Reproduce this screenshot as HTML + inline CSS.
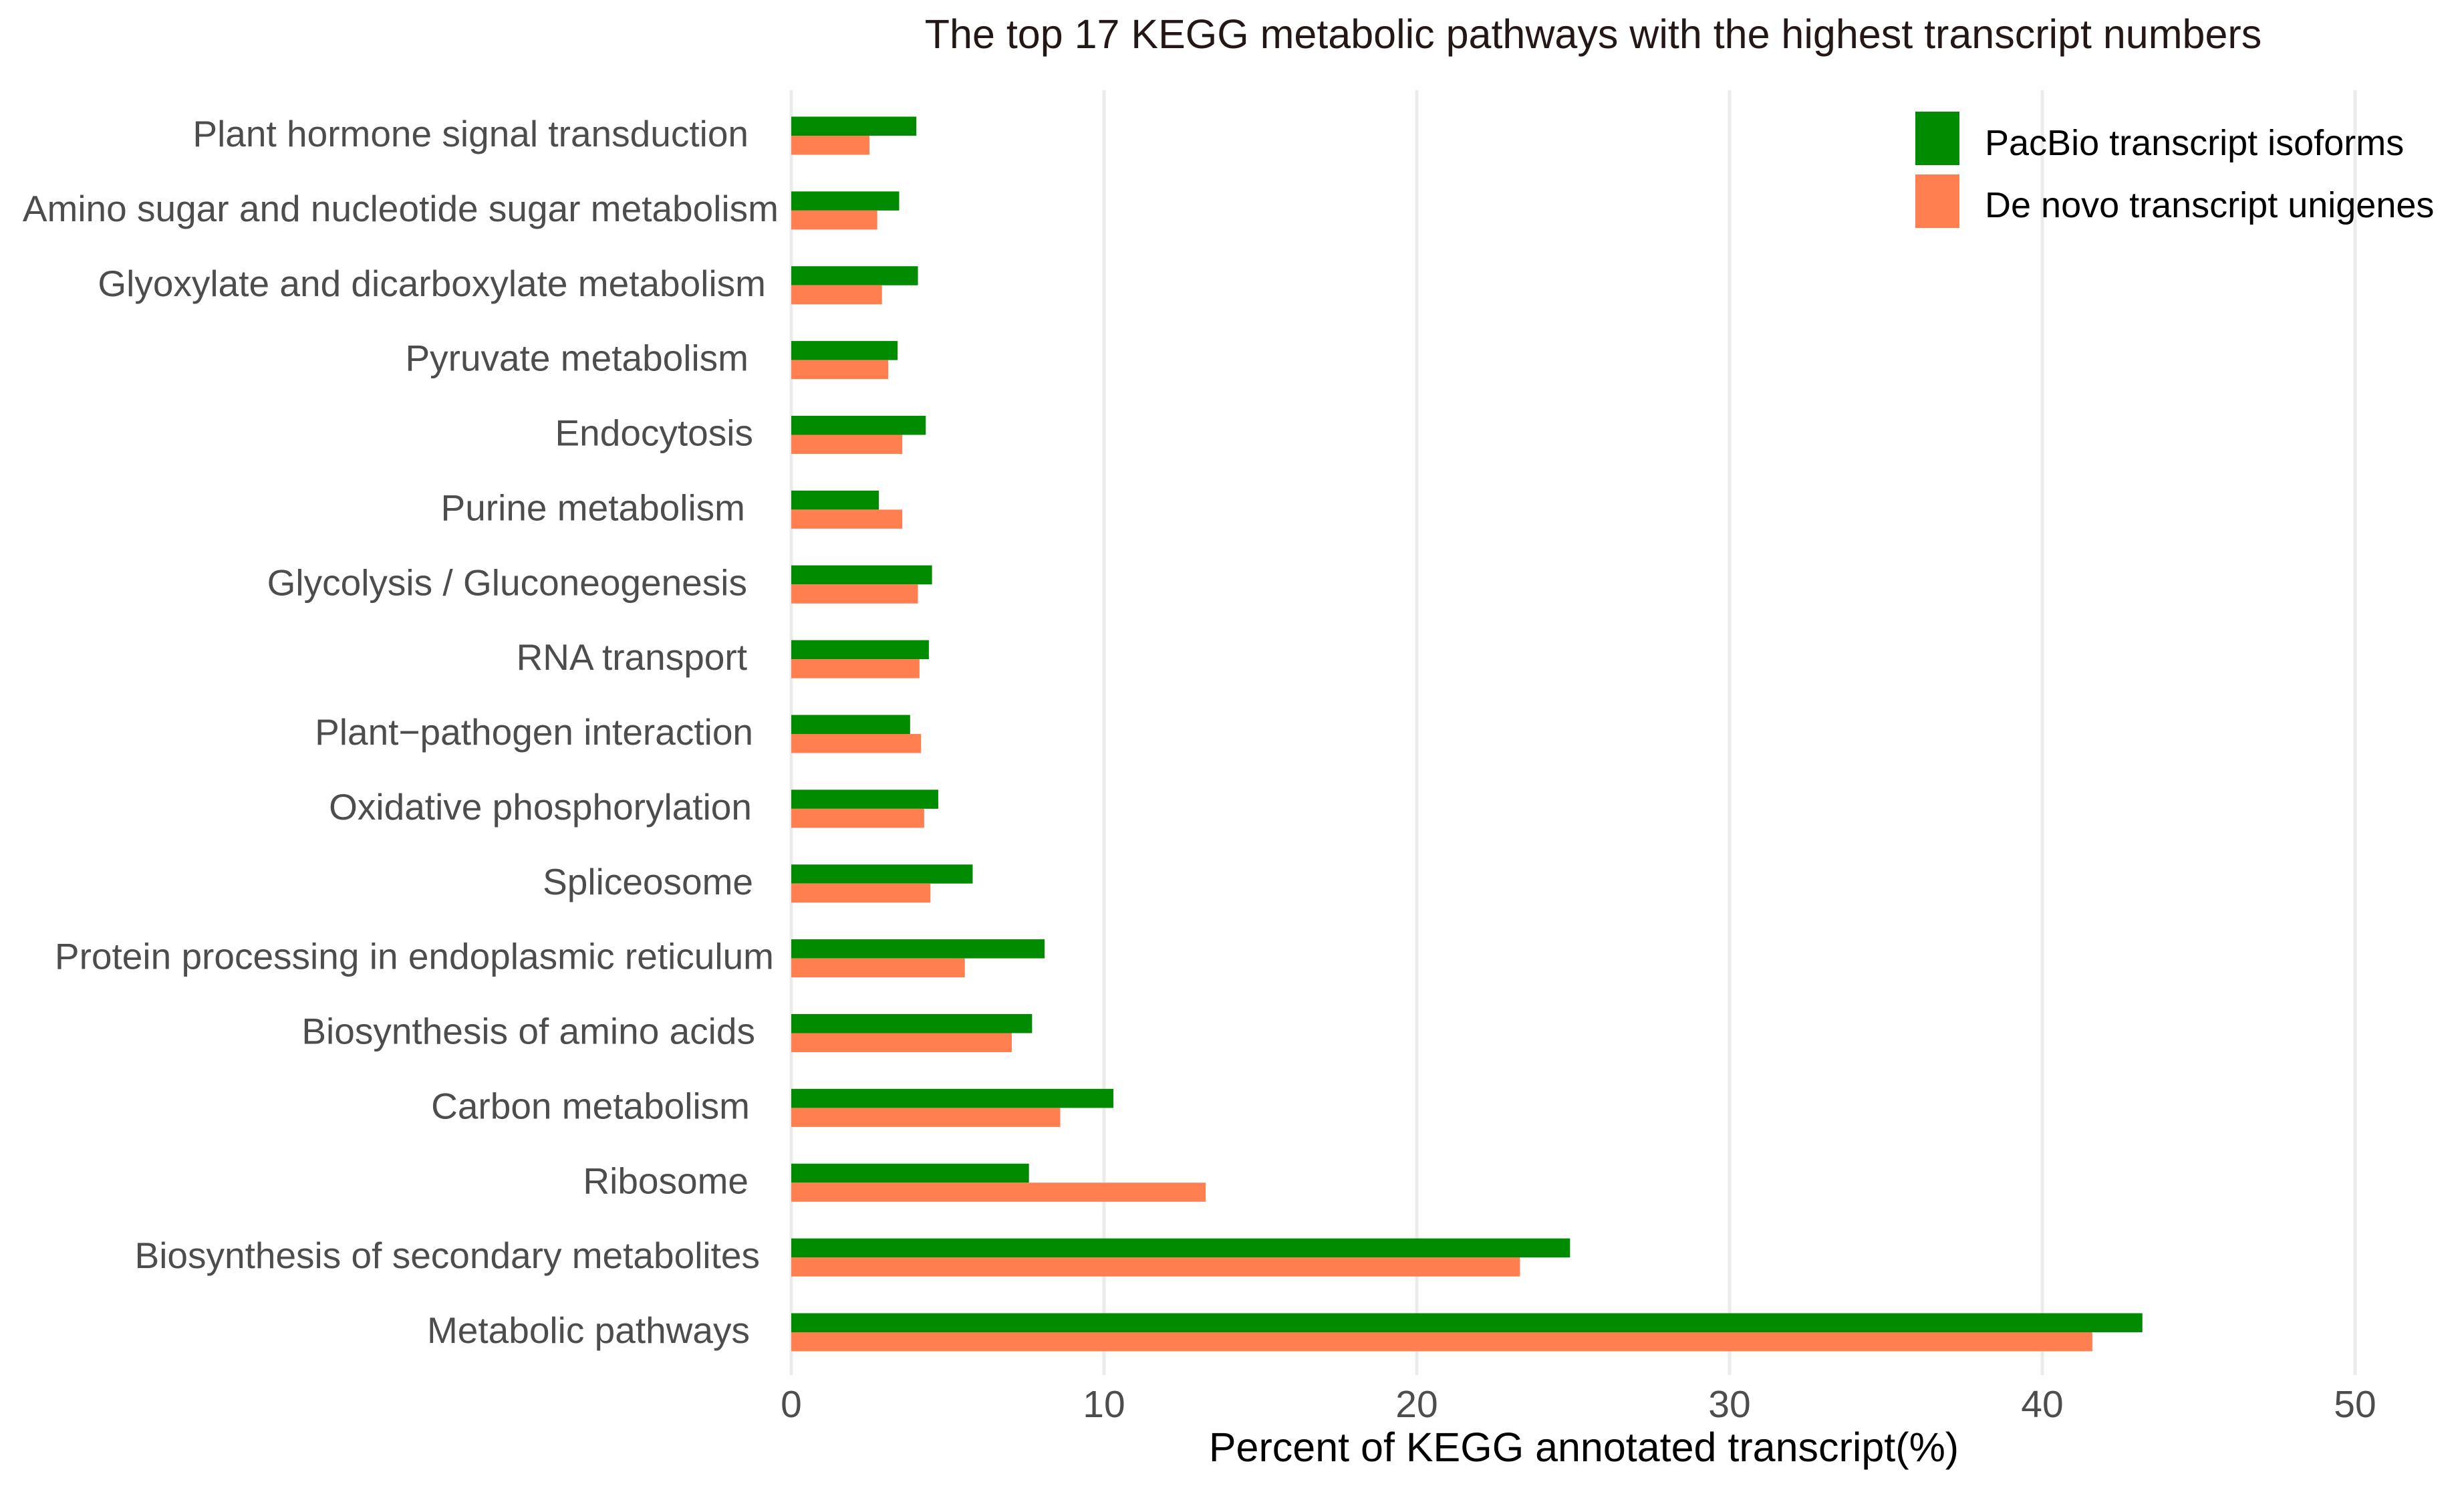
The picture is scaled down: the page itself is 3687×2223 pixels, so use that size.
<!DOCTYPE html>
<html><head><meta charset="utf-8"><style>
html,body{margin:0;padding:0;background:#fff;}
svg{display:block;font-family:"Liberation Sans",Arial,sans-serif;}
</style></head><body>
<svg id="chart" width="3687" height="2223" viewBox="0 0 3687 2223" xmlns="http://www.w3.org/2000/svg">
<rect width="3687" height="2223" fill="#fff"/>
<text x="2384" y="72" font-size="61" fill="#231815" text-anchor="middle">The top 17 KEGG metabolic pathways with the highest transcript numbers</text>
<g id="grid"></g>
<g id="bars"></g>
<g id="ylabels"></g>
<g id="xticks"></g>
<text x="2370" y="2186" font-size="61" fill="#000" text-anchor="middle">Percent of KEGG annotated transcript(%)</text>
<g>
<rect x="2866" y="167" width="66" height="80" fill="#008b00"/>
<text x="2970" y="232" font-size="54" fill="#000">PacBio transcript isoforms</text>
<rect x="2866" y="261" width="66" height="80" fill="#ff7f50"/>
<text x="2970" y="325" font-size="54" fill="#000">De novo transcript unigenes</text>
</g>
</svg>
<script>
const categories = ["Plant hormone signal transduction","Amino sugar and nucleotide sugar metabolism","Glyoxylate and dicarboxylate metabolism","Pyruvate metabolism","Endocytosis","Purine metabolism","Glycolysis / Gluconeogenesis","RNA transport","Plant\u2212pathogen interaction","Oxidative phosphorylation","Spliceosome","Protein processing in endoplasmic reticulum","Biosynthesis of amino acids","Carbon metabolism","Ribosome","Biosynthesis of secondary metabolites","Metabolic pathways"];
const pacbio = [4.0,3.45,4.05,3.4,4.3,2.8,4.5,4.4,3.8,4.7,5.8,8.1,7.7,10.3,7.6,24.9,43.2];
const denovo = [2.5,2.75,2.9,3.1,3.55,3.55,4.05,4.1,4.15,4.25,4.45,5.55,7.05,8.6,13.25,23.3,41.6];
const tickValues = [0,10,20,30,40,50];
const labelRight = [1120,1165,1146,1120,1127,1115,1118,1118,1127,1125,1127,1158,1130,1122,1120,1137,1122];

const NS="http://www.w3.org/2000/svg";
const x0=1184, pxPerUnit=46.8;
const xScale=v=>x0+v*pxPerUnit;
const yTop=203, step=(1993-203)/16;
const yScale=i=>yTop+i*step;
const barH=28.5;
function mk(tag,attrs,parent){const e=document.createElementNS(NS,tag);for(const k in attrs)e.setAttribute(k,attrs[k]);parent.appendChild(e);return e;}
const grid=document.getElementById('grid'),bars=document.getElementById('bars'),yl=document.getElementById('ylabels'),xt=document.getElementById('xticks');
tickValues.forEach(t=>{
  const l=mk('line',{x1:xScale(t),x2:xScale(t),y1:135,y2:2057,stroke:'#ebebeb','stroke-width':5},grid);
  
  
  const tx=mk('text',{x:xScale(t),y:2120,'font-size':57,fill:'#4d4d4d','text-anchor':'middle'},xt);
  tx.textContent=t;
  
  
});
categories.forEach((c,i)=>{
  const yc=yScale(i);
  const g=mk('rect',{x:x0,y:yc-barH,width:xScale(pacbio[i])-x0,height:barH,fill:'#008b00'},bars);
  
  
  const o=mk('rect',{x:x0,y:yc,width:xScale(denovo[i])-x0,height:barH,fill:'#ff7f50'},bars);
  
  
  const t=mk('text',{x:labelRight[i],y:yc+16,'font-size':55,fill:'#4d4d4d','text-anchor':'end'},yl);
  t.textContent=c;
  
  
});
</script>
</body></html>
